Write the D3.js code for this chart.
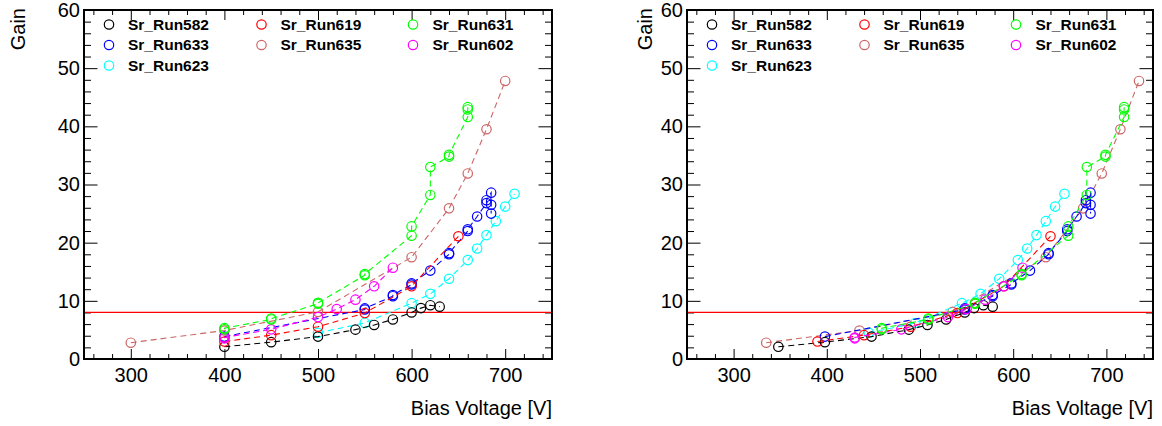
<!DOCTYPE html>
<html>
<head>
<meta charset="utf-8">
<script src="https://cdn.jsdelivr.net/npm/d3@7"></script>
<style>
  html, body { margin: 0; padding: 0; background: #fff; }
  svg { display: block; font-family: "Liberation Sans", Arial, sans-serif; }
</style>
</head>
<body>
<svg id="chart" width="1162" height="426"></svg>
<script>
// ---- data ----
const runNames = ["Sr_Run582", "Sr_Run619", "Sr_Run631", "Sr_Run633", "Sr_Run635", "Sr_Run602", "Sr_Run623"];
const runColors = ["#000000", "#ff0000", "#00ff00", "#0000ff", "#cc6666", "#ff00ff", "#00ffff"];

const run582V = [400, 450, 500, 540, 560, 580, 600, 610, 620, 630];
const run582G = [2.1, 2.9, 3.85, 5.05, 5.85, 6.8, 8.0, 8.75, 9.25, 9.0];

const run619V = [400, 450, 500, 550, 600, 650];
const run619G = [3.0, 4.1, 5.55, 7.9, 12.5, 21.1];

const run631V = [400, 400, 450, 450, 500, 500, 550, 550, 600, 600, 620, 620, 640, 640, 660, 660, 660];
const run631G = [5.1, 5.3, 6.8, 6.95, 9.5, 9.65, 14.4, 14.6, 21.2, 22.8, 28.2, 33.0, 34.8, 35.1, 41.6, 42.9, 43.3];

const run633V = [400, 550, 550, 580, 580, 600, 600, 620, 640, 640, 660, 660, 670, 680, 680, 685, 685, 685];
const run633G = [3.85, 8.5, 8.7, 10.8, 11.0, 12.8, 13.0, 15.2, 18.0, 18.2, 22.0, 22.3, 24.5, 26.8, 27.3, 28.6, 26.5, 25.0];

const run635V = [300, 400, 500, 600, 640, 660, 680, 700];
const run635G = [2.8, 4.9, 8.1, 17.5, 25.9, 31.9, 39.5, 47.8];

const run602V = [400, 400, 450, 500, 520, 540, 560, 580];
const run602G = [3.55, 3.7, 5.1, 7.2, 8.6, 10.2, 12.5, 15.7];

const run623V = [500, 550, 600, 620, 640, 660, 670, 680, 690, 700, 710];
const run623G = [4.5, 6.2, 9.6, 11.2, 13.8, 17.0, 19.0, 21.3, 23.7, 26.2, 28.4];

// voltage shift applied in the right-hand (corrected) panel, per run
const runShift = [-52, -10, 59, -2, 35, 30, -55];

const xMajorTicks = [300, 400, 500, 600, 700];
const yMajorTicks = [0, 10, 20, 30, 40, 50, 60];
const gainThreshold = 8;

const runV = [run582V, run619V, run631V, run633V, run635V, run602V, run623V];
const runG = [run582G, run619G, run631G, run633G, run635G, run602G, run623G];

// draw order (bottom to top)
const drawOrder = [4, 6, 0, 3, 1, 5, 2];

// ---- drawing ----
const svg = d3.select("#chart");

const panels = [
  { left: 84, right: 552, top: 10, bottom: 359, useShift: false, gainX: 25 },
  { left: 687, right: 1153, top: 10, bottom: 359, useShift: true, gainX: 652 }
];

const xMinor = d3.range(260, 750, 20).filter(v => !xMajorTicks.includes(v));
const yMinor = d3.range(0, 61, 2).filter(v => !yMajorTicks.includes(v));

panels.forEach(p => {
  const x = d3.scaleLinear().domain([250, 750]).range([p.left, p.right]);
  const y = d3.scaleLinear().domain([0, 60]).range([p.bottom, p.top]);
  const g = svg.append("g");

  function addAxis(axis, tx, ty, labels) {
    const a = g.append("g").attr("transform", `translate(${tx},${ty})`).call(axis);
    a.select(".domain").remove();
    a.selectAll("line").attr("stroke", "#000").attr("stroke-width", 1);
    if (labels) {
      a.selectAll("text").attr("font-size", 20).attr("fill", "#000")
        .attr("font-family", "Liberation Sans, Arial, sans-serif");
    } else {
      a.selectAll("text").remove();
    }
    return a;
  }

  // bottom
  addAxis(d3.axisBottom(x).tickValues(xMajorTicks).tickSize(-10).tickPadding(9).tickFormat(d3.format("d")), 0, p.bottom, true);
  addAxis(d3.axisBottom(x).tickValues(xMinor).tickSize(-5).tickFormat(""), 0, p.bottom, false);
  // top
  addAxis(d3.axisTop(x).tickValues(xMajorTicks).tickSize(-10).tickFormat(""), 0, p.top, false);
  addAxis(d3.axisTop(x).tickValues(xMinor).tickSize(-5).tickFormat(""), 0, p.top, false);
  // left
  addAxis(d3.axisLeft(y).tickValues(yMajorTicks).tickSize(-13.5).tickPadding(4).tickFormat(d3.format("d")), p.left, 0, true);
  addAxis(d3.axisLeft(y).tickValues(yMinor).tickSize(-7).tickFormat(""), p.left, 0, false);
  // right
  addAxis(d3.axisRight(y).tickValues(yMajorTicks).tickSize(-13.5).tickFormat(""), p.right, 0, false);
  addAxis(d3.axisRight(y).tickValues(yMinor).tickSize(-7).tickFormat(""), p.right, 0, false);

  // threshold line
  g.append("line")
    .attr("x1", p.left).attr("x2", p.right)
    .attr("y1", y(gainThreshold)).attr("y2", y(gainThreshold))
    .attr("stroke", "#ff0000").attr("stroke-width", 1.2);

  // series
  drawOrder.forEach(i => {
    const shift = p.useShift ? runShift[i] : 0;
    const pts = runV[i].map((v, k) => [v + shift, runG[i][k]]);
    const line = d3.line().x(d => x(d[0])).y(d => y(d[1]));
    g.append("path")
      .attr("d", line(pts))
      .attr("fill", "none")
      .attr("stroke", runColors[i])
      .attr("stroke-width", 1.1)
      .attr("stroke-dasharray", "6,4");
    g.selectAll(null).data(pts).enter().append("circle")
      .attr("cx", d => x(d[0])).attr("cy", d => y(d[1]))
      .attr("r", 4.7)
      .attr("fill", "none")
      .attr("stroke", runColors[i])
      .attr("stroke-width", 1.2);
  });

  // frame
  g.append("rect")
    .attr("x", p.left).attr("y", p.top)
    .attr("width", p.right - p.left).attr("height", p.bottom - p.top)
    .attr("fill", "none").attr("stroke", "#000").attr("stroke-width", 2);

  // legend
  const colOff = [[25, 44], [177.5, 196.5], [329, 348.5]];
  const rowY = [24.5, 45, 65.5];
  runNames.forEach((name, i) => {
    const c = i % 3, r = Math.floor(i / 3);
    g.append("circle")
      .attr("cx", p.left + colOff[c][0]).attr("cy", rowY[r])
      .attr("r", 4.7).attr("fill", "none")
      .attr("stroke", runColors[i]).attr("stroke-width", 1.2);
    g.append("text")
      .attr("x", p.left + colOff[c][1]).attr("y", rowY[r])
      .attr("dy", "0.35em")
      .attr("font-size", 15.5).attr("font-weight", "bold")
      .attr("fill", "#000")
      .text(name);
  });

  // axis titles
  g.append("text")
    .attr("x", p.right).attr("y", 415)
    .attr("text-anchor", "end")
    .attr("font-size", 20).attr("fill", "#000")
    .text("Bias Voltage [V]");
  g.append("text")
    .attr("transform", `translate(${p.gainX},8) rotate(-90)`)
    .attr("text-anchor", "end")
    .attr("font-size", 20).attr("fill", "#000")
    .text("Gain");
});
</script>
</body>
</html>
